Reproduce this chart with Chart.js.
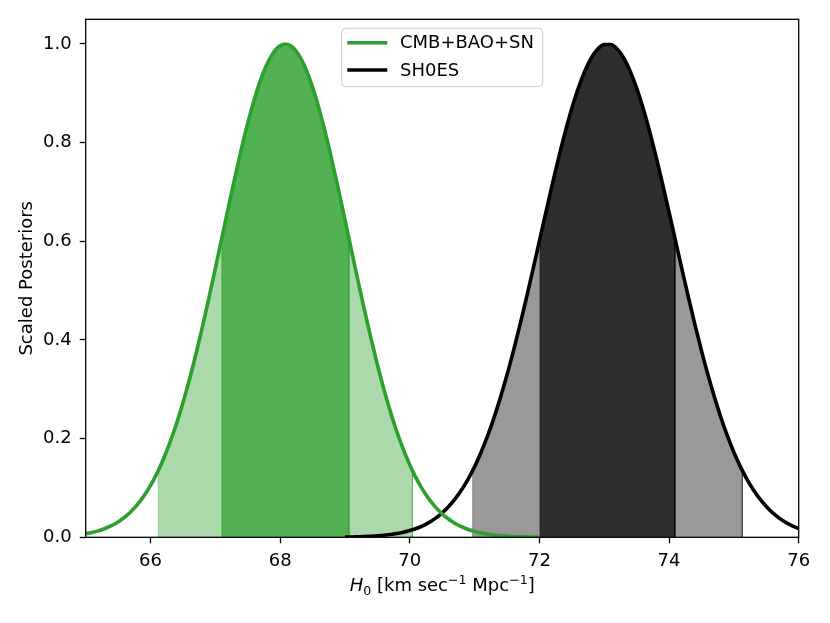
<!DOCTYPE html>
<html>
<head>
<meta charset="utf-8">
<script src="https://cdn.jsdelivr.net/npm/chart.js@4.4.1/dist/chart.umd.min.js"></script>
<style>
  html, body { margin: 0; padding: 0; background: #fff; }
  #wrap { width: 830px; height: 623px; }
</style>
</head>
<body>
<div id="wrap"><canvas id="myChart" width="830" height="623"></canvas></div>
<script>
// sample positions along H0 and scaled posterior heights
var greenX = [64.98, 65.08, 65.18, 65.28, 65.38, 65.48, 65.58, 65.68, 65.78, 65.88,
              65.98, 66.08, 66.18, 66.28, 66.38, 66.48, 66.58, 66.68, 66.78, 66.88,
              66.98, 67.08, 67.18, 67.28, 67.38, 67.48, 67.58, 67.68, 67.78, 67.88,
              67.98, 68.08,
              68.18, 68.28, 68.38, 68.48, 68.58, 68.68, 68.78, 68.88, 68.98, 69.08,
              69.18, 69.28, 69.38, 69.48, 69.58, 69.68, 69.78, 69.88, 69.98, 70.08,
              70.18, 70.28, 70.38, 70.48, 70.58, 70.68, 70.78, 70.88, 70.98, 71.08,
              71.18, 71.28, 71.38, 71.48, 71.58, 71.68, 71.78, 71.88, 71.98];
var greenY = [0.0067, 0.0092, 0.0125, 0.0169, 0.0225, 0.0296, 0.0386, 0.0498, 0.0637, 0.0805,
              0.1007, 0.1246, 0.1527, 0.1851, 0.2221, 0.2637, 0.3099, 0.3604, 0.4148, 0.4725,
              0.5326, 0.5942, 0.6559, 0.7166, 0.7748, 0.8291, 0.8780, 0.9201, 0.9542, 0.9794,
              0.9948, 1.0000,
              0.9948, 0.9794, 0.9542, 0.9201, 0.8780, 0.8291, 0.7748, 0.7166, 0.6559, 0.5942,
              0.5326, 0.4725, 0.4148, 0.3604, 0.3099, 0.2637, 0.2221, 0.1851, 0.1527, 0.1246,
              0.1007, 0.0805, 0.0637, 0.0498, 0.0386, 0.0296, 0.0225, 0.0169, 0.0125, 0.0092,
              0.0067, 0.0048, 0.0034, 0.0024, 0.0017, 0.0012, 0.0008, 0.0005, 0.0004];

var blackX = [69.0, 69.1, 69.2, 69.3, 69.4, 69.5, 69.6, 69.7, 69.8, 69.9,
              70.0, 70.1, 70.2, 70.3, 70.4, 70.5, 70.6, 70.7, 70.8, 70.9,
              71.0, 71.1, 71.2, 71.3, 71.4, 71.5, 71.6, 71.7, 71.8, 71.9,
              72.0, 72.1, 72.2, 72.3, 72.4, 72.5, 72.6, 72.7, 72.8, 72.9,
              73.0, 73.1, 73.2, 73.3, 73.4, 73.5, 73.6, 73.7, 73.8, 73.9,
              74.0, 74.1, 74.2, 74.3, 74.4, 74.5, 74.6, 74.7, 74.8, 74.9,
              75.0, 75.1, 75.2, 75.3, 75.4, 75.5, 75.6, 75.7, 75.8, 75.9,
              76.0];
var blackY = [0.0005, 0.0007, 0.0011, 0.0015, 0.0021, 0.0029, 0.0041, 0.0056, 0.0076, 0.0102,
              0.0136, 0.0179, 0.0234, 0.0303, 0.0389, 0.0495, 0.0624, 0.0778, 0.0963, 0.1180,
              0.1433, 0.1724, 0.2055, 0.2427, 0.2841, 0.3293, 0.3784, 0.4306, 0.4856, 0.5426,
              0.6007, 0.6589, 0.7161, 0.7710, 0.8226, 0.8695, 0.9106, 0.9449, 0.9715, 0.9897,
              0.9988, 0.9988, 0.9897, 0.9715, 0.9449, 0.9106, 0.8695, 0.8226, 0.7710, 0.7161,
              0.6589, 0.6007, 0.5426, 0.4856, 0.4306, 0.3784, 0.3293, 0.2841, 0.2427, 0.2055,
              0.1724, 0.1433, 0.1180, 0.0963, 0.0778, 0.0624, 0.0495, 0.0389, 0.0303, 0.0234,
              0.0179];

// shaded intervals: [2 sigma, 1 sigma]
var greenBandLo = [66.12, 67.10];
var greenBandHi = [70.04, 69.06];
var blackBandLo = [70.97, 72.01];
var blackBandHi = [75.13, 74.09];
var bandEdgeY = [0.1353, 0.6065];

var seriesNames = ["CMB+BAO+SN", "SH0ES"];
var xTicks = [66, 68, 70, 72, 74, 76];
var yTicks = [0.0, 0.2, 0.4, 0.6, 0.8, 1.0];

function toPoints(xs, ys) {
    var pts = [];
    for (var i = 0; i < xs.length; i++) pts.push({x: xs[i], y: ys[i]});
    return pts;
}

function makeBand(xs, ys, lo, hi, edge) {
    var pts = [{x: lo, y: 0}, {x: lo, y: edge}];
    for (var i = 0; i < xs.length; i++) {
        if (xs[i] > lo && xs[i] < hi) pts.push({x: xs[i], y: ys[i]});
    }
    pts.push({x: hi, y: edge});
    pts.push({x: hi, y: 0});
    return pts;
}

function bandSet(pts, color, order) {
    return {
        data: pts,
        borderColor: color,
        backgroundColor: color,
        borderWidth: 1,
        fill: 'origin',
        pointRadius: 0,
        tension: 0,
        order: order
    };
}

Chart.defaults.font.family = "'DejaVu Sans', sans-serif";
Chart.defaults.font.size = 18;
Chart.defaults.color = "#000";

var framePlugin = {
    id: 'frame',
    afterDraw: function(chart) {
        var c = chart.ctx, a = chart.chartArea;
        c.save();
        c.strokeStyle = "#000";
        c.lineWidth = 1.3;
        c.strokeRect(a.left, a.top, a.right - a.left, a.bottom - a.top);

        // legend, upper centre
        var rows = [chart.data.datasets[0], chart.data.datasets[1]];
        c.font = "18px 'DejaVu Sans'";
        var tw = 0;
        rows.forEach(function(d) { tw = Math.max(tw, c.measureText(d.label).width); });
        var w = 5.6 + 40 + 12.7 + tw + 8.7, h = 58.4;
        var bx = (a.left + a.right) / 2 - w / 2, by = a.top + 9;
        c.beginPath();
        c.roundRect(bx, by, w, h, 4);
        c.fillStyle = "rgba(255,255,255,0.8)";
        c.fill();
        c.strokeStyle = "#cccccc";
        c.lineWidth = 1;
        c.stroke();
        rows.forEach(function(d, i) {
            var ly = by + 14.4 + i * 27.3;
            c.beginPath();
            c.moveTo(bx + 5.6, ly);
            c.lineTo(bx + 45.6, ly);
            c.strokeStyle = d.borderColor;
            c.lineWidth = 3.6;
            c.stroke();
            c.fillStyle = "#000";
            c.textBaseline = "middle";
            c.textAlign = "left";
            c.fillText(d.label, bx + 58.3, ly + 1);
        });

        // axis titles
        var parts = [
            {t: "H", f: "italic 18px 'DejaVu Sans'", dy: 0},
            {t: "0", f: "12.6px 'DejaVu Sans'", dy: 3.5},
            {t: " [km sec", f: "18px 'DejaVu Sans'", dy: 0},
            {t: "\u22121", f: "12.6px 'DejaVu Sans'", dy: -7.5},
            {t: " Mpc", f: "18px 'DejaVu Sans'", dy: 0},
            {t: "\u22121", f: "12.6px 'DejaVu Sans'", dy: -7.5},
            {t: "]", f: "18px 'DejaVu Sans'", dy: 0}
        ];
        var total = 0;
        parts.forEach(function(p) { c.font = p.f; p.w = c.measureText(p.t).width; total += p.w; });
        var x = (a.left + a.right) / 2 - total / 2, base = 591;
        c.textBaseline = "alphabetic";
        c.textAlign = "left";
        c.fillStyle = "#000";
        parts.forEach(function(p) { c.font = p.f; c.fillText(p.t, x, base + p.dy); x += p.w; });

        c.translate(27.3, (a.top + a.bottom) / 2);
        c.rotate(-Math.PI / 2);
        c.font = "18px 'DejaVu Sans'";
        c.textAlign = "center";
        c.textBaseline = "middle";
        c.fillText("Scaled Posteriors", 0, 0);
        c.restore();
    }
};

var ctx = document.getElementById("myChart").getContext('2d');

var chart = new Chart(ctx, {
    type: 'line',
    data: {
        datasets: [
            {
                label: seriesNames[0],
                data: toPoints(greenX, greenY),
                borderColor: "#2ca02c",
                borderWidth: 3.6,
                pointRadius: 0,
                fill: false,
                cubicInterpolationMode: 'monotone',
                order: 0
            },
            {
                label: seriesNames[1],
                data: toPoints(blackX, blackY),
                borderColor: "#000000",
                borderWidth: 3.6,
                pointRadius: 0,
                fill: false,
                cubicInterpolationMode: 'monotone',
                order: 0
            },
            bandSet(makeBand(greenX, greenY, greenBandLo[1], greenBandHi[1], bandEdgeY[1]), "rgba(44,160,44,0.7)", 1),
            bandSet(makeBand(blackX, blackY, blackBandLo[1], blackBandHi[1], bandEdgeY[1]), "rgba(0,0,0,0.7)", 1),
            bandSet(makeBand(greenX, greenY, greenBandLo[0], greenBandHi[0], bandEdgeY[0]), "rgba(44,160,44,0.4)", 2),
            bandSet(makeBand(blackX, blackY, blackBandLo[0], blackBandHi[0], bandEdgeY[0]), "rgba(0,0,0,0.4)", 2)
        ]
    },
    plugins: [framePlugin],
    options: {
        responsive: false,
        animation: false,
        devicePixelRatio: 1,
        layout: { padding: { top: 19.3, right: 31.3, bottom: 0, left: 0 } },
        plugins: {
            legend: { display: false },
            tooltip: { enabled: false }
        },
        scales: {
            x: {
                type: 'linear',
                min: 65,
                max: 76,
                afterFit: function(s) { s.height = 85.7; },
                afterBuildTicks: function(s) { s.ticks = xTicks.map(function(v) { return {value: v}; }); },
                border: { display: false },
                grid: { drawOnChartArea: false, drawTicks: true, tickLength: 6, tickColor: "#000", tickWidth: 1.3 },
                ticks: { padding: 7, maxRotation: 0, color: "#000", callback: function(v) { return String(v); } }
            },
            y: {
                min: 0,
                max: 1.05,
                afterFit: function(s) { s.width = 85.7; },
                afterBuildTicks: function(s) { s.ticks = yTicks.map(function(v) { return {value: v}; }); },
                border: { display: false },
                grid: { drawOnChartArea: false, drawTicks: true, tickLength: 6, tickColor: "#000", tickWidth: 1.3 },
                ticks: { padding: 8, color: "#000", callback: function(v) { return v.toFixed(1); } }
            }
        }
    }
});
</script>
</body>
</html>
